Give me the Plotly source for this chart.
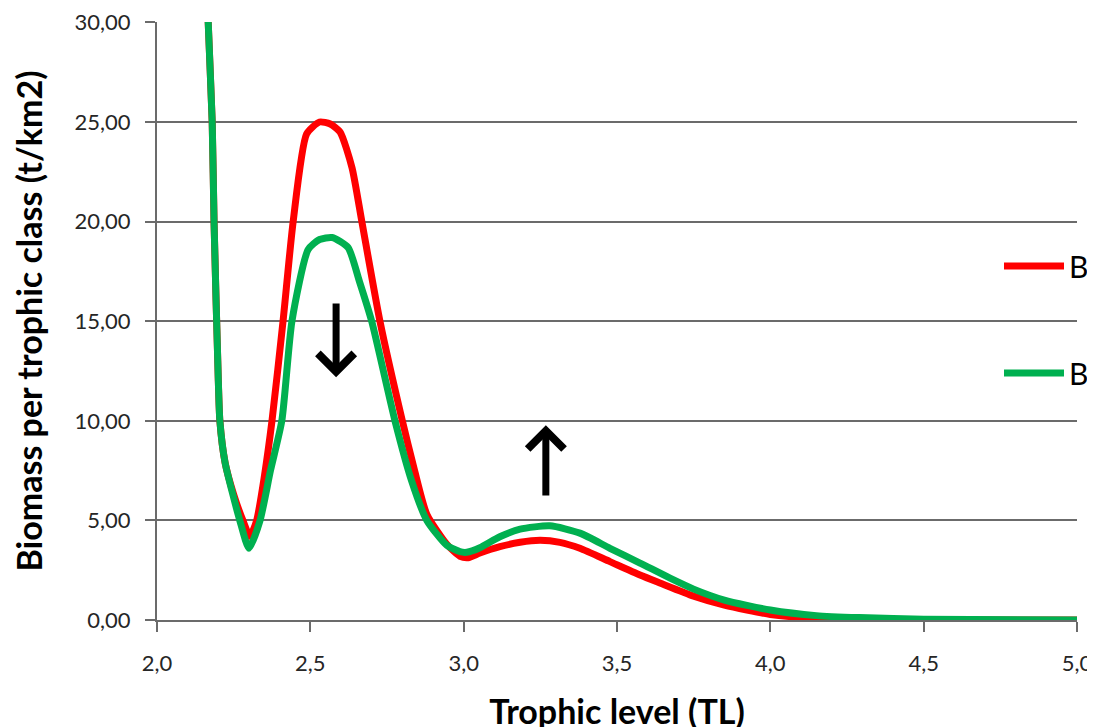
import plotly.graph_objects as go

# Trophic level values and biomass per trophic class
tl_red = [2.15, 2.167, 2.18, 2.186, 2.20, 2.205, 2.222, 2.25, 2.28, 2.303, 2.325, 2.35, 2.375,
          2.411, 2.444, 2.488, 2.53, 2.565, 2.597, 2.636, 2.668, 2.727, 2.80, 2.84, 2.88, 2.945,
          2.988, 3.015, 3.053, 3.118, 3.184, 3.249, 3.314, 3.379, 3.477, 3.575, 3.64, 3.75,
          3.85, 4.0, 4.15, 4.3, 4.5, 5.0]
b_red = [38.0, 30.0, 25.0, 20.0, 12.0, 10.0, 7.9, 6.3, 5.0, 4.2, 5.0, 7.2, 10.0,
         15.0, 20.0, 24.4, 25.0, 24.9, 24.5, 22.7, 20.0, 15.0, 10.0, 7.5, 5.3, 3.8,
         3.2, 3.13, 3.36, 3.68, 3.9, 4.0, 3.9, 3.6, 2.93, 2.26, 1.86, 1.2,
         0.75, 0.28, 0.08, 0.03, 0.01, 0.0]

tl_green = [2.15, 2.167, 2.18, 2.186, 2.20, 2.205, 2.222, 2.27, 2.30, 2.336, 2.37, 2.407, 2.44,
            2.493, 2.53, 2.571, 2.623, 2.66, 2.70, 2.776, 2.83, 2.88, 2.945, 2.988, 3.01, 3.053,
            3.118, 3.184, 3.281, 3.379, 3.477, 3.575, 3.673, 3.75, 3.85, 4.0, 4.15, 4.29, 4.5, 5.0]
b_green = [38.0, 30.0, 25.0, 20.0, 12.0, 10.0, 7.9, 5.0, 3.6, 5.0, 7.5, 10.0, 15.0,
           18.6, 19.1, 19.2, 18.7, 17.0, 15.0, 10.0, 7.0, 5.0, 3.75, 3.43, 3.4, 3.63,
           4.18, 4.56, 4.73, 4.36, 3.6, 2.86, 2.1, 1.55, 1.0, 0.5, 0.22, 0.12, 0.04, 0.0]

series_names = ["B2000", "B2010"]
series_colors = ["#ff0000", "#00b050"]

x_ticks = [2.0, 2.5, 3.0, 3.5, 4.0, 4.5, 5.0]
y_ticks = [0, 5, 10, 15, 20, 25, 30]

# arrows: (x, tail y, head y)
arrow_down = (2.584, 15.96, 12.19)
arrow_up = (3.268, 6.17, 9.78)

FONT = "Lato"
AX_COLOR = "#6b6b6b"

fig = go.Figure()
fig.add_trace(go.Scatter(x=tl_red, y=b_red, mode="lines", name=series_names[0],
                         line=dict(color=series_colors[0], width=7, shape="spline", smoothing=0.6),
                         legendgroup="a"))
fig.add_trace(go.Scatter(x=tl_green, y=b_green, mode="lines", name=series_names[1],
                         line=dict(color=series_colors[1], width=7, shape="spline", smoothing=0.6),
                         legendgroup="b"))

for (ax_x, y0, y1) in [arrow_down, arrow_up]:
    fig.add_annotation(x=ax_x, y=y1, ax=ax_x, ay=y0, xref="x", yref="y", axref="x", ayref="y",
                       text="", showarrow=True, arrowhead=4, arrowsize=1.0, arrowwidth=7,
                       arrowcolor="black", standoff=0)

# white box behind legend (covers gridlines like the reference)
fig.add_shape(type="rect", xref="paper", yref="paper",
              x0=(988 - 157) / 920, x1=1.1, y0=(620 - 440) / 598, y1=(620 - 205) / 598,
              fillcolor="white", line=dict(width=0), layer="between")

fig.update_layout(
    width=1095, height=727,
    margin=dict(l=149, r=26, t=14, b=115, autoexpand=False),
    paper_bgcolor="white", plot_bgcolor="white",
    separators=",.",
    font=dict(family=FONT, color="#262626"),
    showlegend=True,
    legend=dict(x=(999 - 157) / 920, y=(620 - 240) / 598, xanchor="left", yanchor="top",
                bgcolor="rgba(0,0,0,0)", font=dict(family=FONT, size=30, color="black"),
                traceorder="grouped", tracegroupgap=65, itemwidth=60),
)
fig.update_xaxes(range=[2.0, 5.0], tickvals=x_ticks, tickformat=".1f",
                 showgrid=False, showline=True, linecolor=AX_COLOR, linewidth=2,
                 ticks="outside", ticklen=10, tickwidth=2, tickcolor=AX_COLOR,
                 ticklabelstandoff=13,
                 tickfont=dict(family=FONT, size=22, color="#262626"),
                 title=dict(text="<b>Trophic level (TL)</b>", font=dict(family=FONT, size=34, color="black"),
                            standoff=25),
                 zeroline=False)
fig.update_yaxes(range=[0, 30.02], tickvals=y_ticks, tickformat=".2f",
                 showgrid=True, gridcolor=AX_COLOR, gridwidth=1.5,
                 showline=True, linecolor=AX_COLOR, linewidth=2,
                 ticks="outside", ticklen=10, tickwidth=1.5, tickcolor=AX_COLOR,
                 ticklabelstandoff=10,
                 tickfont=dict(family=FONT, size=22, color="#262626"),
                 title=dict(text="<b>Biomass per trophic class (t/km2)</b>",
                            font=dict(family=FONT, size=34, color="black"), standoff=22),
                 zeroline=False)

fig.write_html("out.html")
